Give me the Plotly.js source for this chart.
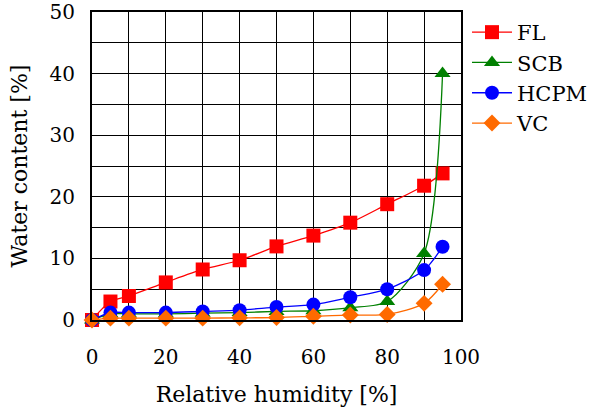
<!DOCTYPE html>
<html><head><meta charset="utf-8">
<script src="https://cdn.plot.ly/plotly-3.0.1.min.js"></script>
<style>html,body{margin:0;padding:0;background:#fff}#c{width:594px;height:412px}</style>
</head><body><div id="c"></div>
<script>
const rh = [0, 5, 10, 20, 30, 40, 50, 60, 70, 80, 90, 95];
const FL = [0, 3.0, 3.9, 6.1, 8.2, 9.7, 11.95, 13.7, 15.8, 18.8, 21.8, 23.8];
const SCB = [0, 1.0, 1.0, 1.0, 1.1, 1.2, 1.4, 1.5, 2.0, 3.0, 10.8, 40.0];
const HCPM = [0, 1.2, 1.2, 1.2, 1.4, 1.6, 2.1, 2.5, 3.7, 5.0, 8.1, 11.9];
const VC = [0, 0.3, 0.3, 0.3, 0.3, 0.35, 0.4, 0.6, 0.8, 0.9, 2.7, 5.8];
const xTicks = [0, 20, 40, 60, 80, 100];
const yTicks = [0, 10, 20, 30, 40, 50];

const fam = 'DejaVu Serif';
const tickFont = {family: fam, size: 20, color: '#000'};
const titleFont = {family: fam, size: 22, color: '#000'};
const legFont = {family: fam, size: 21, color: '#000'};
function tr(name, y, color, symbol, size) {
  return {x: rh, y: y, name: name, type: 'scatter', mode: 'lines+markers',
    line: {color: color, width: 1.3, shape: 'spline', smoothing: 0.8},
    marker: {color: color, symbol: symbol, size: size},
    cliponaxis: false};
}
const data = [
  tr('FL', FL, '#ff0000', 'square', 14),
  tr('SCB', SCB, '#008000', 'triangle-up', 14),
  tr('HCPM', HCPM, '#0000ff', 'circle', 14),
  tr('VC', VC, '#ff6a00', 'diamond', 13)
];
const layout = {
  width: 594, height: 412,
  margin: {l: 92, r: 133, t: 12, b: 92, autoexpand: false},
  paper_bgcolor: '#fff', plot_bgcolor: '#fff',
  font: tickFont,
  showlegend: true,
  legend: {xref: 'container', yref: 'container', x: 467 / 594, y: 1 - 12 / 412,
           xanchor: 'left', yanchor: 'top', font: legFont,
           itemwidth: 40, bgcolor: 'rgba(0,0,0,0)', tracegroupgap: 0},
  xaxis: {range: [0, 100], tickvals: xTicks, ticktext: xTicks.map(String),
          tickfont: tickFont,
          showgrid: true, gridcolor: '#000', gridwidth: 1,
          minor: {dtick: 10, showgrid: true, gridcolor: '#000', gridwidth: 1},
          showline: true, linecolor: '#000', linewidth: 2, mirror: true,
          zeroline: false, ticks: '', ticklabelstandoff: 18,
          title: {text: 'Relative humidity [%]', font: titleFont, standoff: 19}},
  yaxis: {range: [0, 50], tickvals: yTicks, ticktext: yTicks.map(String),
          tickfont: tickFont,
          showgrid: true, gridcolor: '#000', gridwidth: 1,
          minor: {dtick: 5, showgrid: true, gridcolor: '#000', gridwidth: 1},
          showline: true, linecolor: '#000', linewidth: 2, mirror: true,
          zeroline: false, ticks: '', ticklabelstandoff: 11,
          title: {text: 'Water content [%]', font: titleFont, standoff: 16}}
};
Plotly.newPlot('c', data, layout, {displayModeBar: false, staticPlot: true});
</script>
</body></html>
